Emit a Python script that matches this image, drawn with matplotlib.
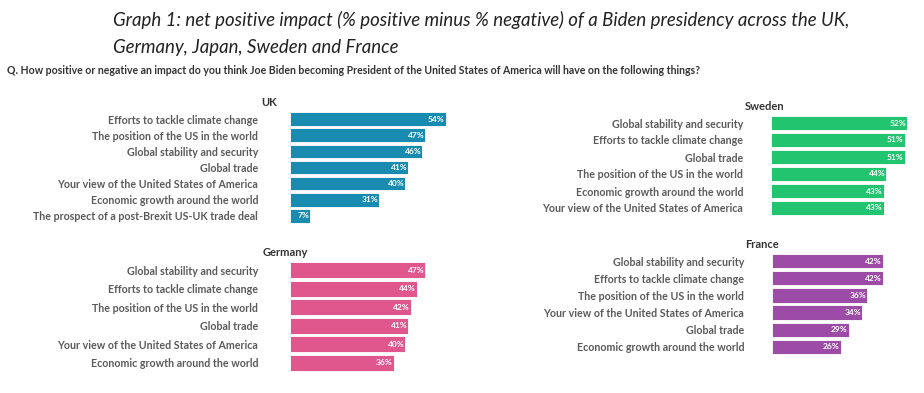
import matplotlib
matplotlib.use('Agg')
from matplotlib import pyplot as plt

# Data
uk_items = ['Efforts to tackle climate change', 'The position of the US in the world',
            'Global stability and security', 'Global trade',
            'Your view of the United States of America', 'Economic growth around the world',
            'The prospect of a post-Brexit US-UK trade deal']
uk_values = [54, 47, 46, 41, 40, 31, 7]

sweden_items = ['Global stability and security', 'Efforts to tackle climate change',
                'Global trade', 'The position of the US in the world',
                'Economic growth around the world', 'Your view of the United States of America']
sweden_values = [52, 51, 51, 44, 43, 43]

germany_items = ['Global stability and security', 'Efforts to tackle climate change',
                 'The position of the US in the world', 'Global trade',
                 'Your view of the United States of America', 'Economic growth around the world']
germany_values = [47, 44, 42, 41, 40, 36]

france_items = ['Global stability and security', 'Efforts to tackle climate change',
                'The position of the US in the world', 'Your view of the United States of America',
                'Global trade', 'Economic growth around the world']
france_values = [42, 42, 36, 34, 29, 26]

W, H = 924, 393
TEXT_GREY = '#5a5a5a'
plt.rcParams['font.family'] = ['Lato', 'DejaVu Sans']


def panel(fig, items, values, color, name, left, top, bottom, px_per_pct,
          label_pad, title_x, title_y, bar_h=0.84):
    """Draw one country panel; geometry given in pixels."""
    xmax = 60
    ax = fig.add_axes([left / W, 1 - bottom / H, xmax * px_per_pct / W, (bottom - top) / H])
    n = len(items)
    ypos = list(range(n))
    ax.barh(ypos, values, height=bar_h, color=color, edgecolor='white', linewidth=0.6)
    for y, v in zip(ypos, values):
        ax.text(v - 0.3, y, f'{v}%', color='white', fontsize=6, fontweight='bold',
                ha='right', va='center')
    ax.set_xlim(0, xmax)
    ax.set_ylim(n - 0.5, -0.5)
    ax.set_yticks(ypos)
    ax.set_yticklabels(items, fontsize=7.7, fontweight='bold', color=TEXT_GREY)
    ax.tick_params(axis='y', length=0, pad=label_pad)
    ax.set_xticks([])
    for s in ax.spines.values():
        s.set_visible(False)
    fig.text(title_x / W, 1 - title_y / H, name, fontsize=8, fontweight='bold',
             color='#333333', ha='center', va='center')
    return ax


fig = plt.figure(figsize=(W / 100, H / 100), dpi=100)

fig.text(113 / W, 1 - 20 / H,
         'Graph 1: net positive impact (% positive minus % negative) of a Biden presidency across the UK,',
         fontsize=13.4, style='italic', color='#222222', va='center')
fig.text(113 / W, 1 - 47 / H, 'Germany, Japan, Sweden and France',
         fontsize=13.4, style='italic', color='#222222', va='center')
fig.text(7 / W, 1 - 71 / H,
         'Q. How positive or negative an impact do you think Joe Biden becoming President of the '
         'United States of America will have on the following things?',
         fontsize=7.6, fontweight='bold', color='#333333', va='center')

panel(fig, uk_items, uk_values, '#1a8bb0', 'UK', 290, 111, 224, 2.88, 23, 269, 102)
panel(fig, germany_items, germany_values, '#e0578e', 'Germany', 290, 261, 372, 2.88, 23, 285, 252)
panel(fig, sweden_items, sweden_values, '#23c46f', 'Sweden', 771, 114.5, 216.5, 2.62, 20, 765, 107)
panel(fig, france_items, france_values, '#9c4ba6', 'France', 772, 252.5, 355.5, 2.64, 20, 762, 244)

fig.savefig('out.png', dpi=100)
